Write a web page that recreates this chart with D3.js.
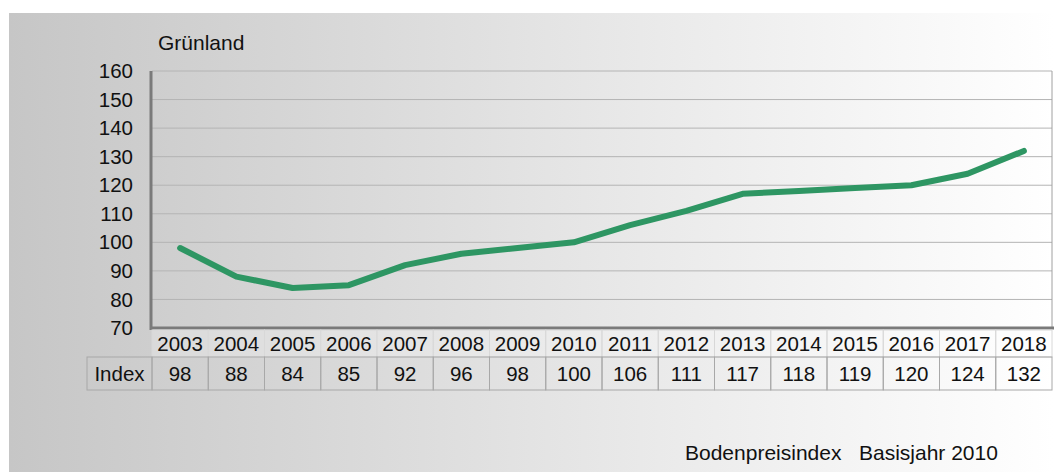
<!DOCTYPE html>
<html><head><meta charset="utf-8">
<script src="https://cdn.jsdelivr.net/npm/d3@7"></script>
<style>body{margin:0;background:#fff}svg{display:block;font-family:"Liberation Sans",Arial,sans-serif}</style>
</head><body>
<svg id="c" width="1054" height="472"></svg>
<script>
const years = ["2003","2004","2005","2006","2007","2008","2009","2010","2011","2012","2013","2014","2015","2016","2017","2018"];
const indexValues = [98,88,84,85,92,96,98,100,106,111,117,118,119,120,124,132];
const yTicks = [70,80,90,100,110,120,130,140,150,160];
const title = "Grünland";
const rowLabel = "Index";
const footer = "Bodenpreisindex   Basisjahr 2010";

const FS = 20.5;
const svg = d3.select("#c");
const defs = svg.append("defs");
const g = defs.append("linearGradient").attr("id","bg").attr("x1","0").attr("x2","1").attr("y1","0").attr("y2","0");
g.append("stop").attr("offset","0").attr("stop-color","#c6c6c6");
g.append("stop").attr("offset","0.55").attr("stop-color","#e6e6e6");
g.append("stop").attr("offset","1").attr("stop-color","#ffffff");
svg.append("rect").attr("x",9).attr("y",13).attr("width",1045).attr("height",459).attr("fill","url(#bg)");

const L=152, R=1052, T=71, B=328;
const x = d3.scaleBand().domain(years).range([L,R]);
const y = d3.scaleLinear().domain([70,160]).range([B,T]);

// gridlines
svg.append("g").selectAll("line").data(yTicks.slice(1)).join("line")
  .attr("x1",L).attr("x2",R).attr("y1",d=>y(d)).attr("y2",d=>y(d))
  .attr("stroke","#b4b4b4").attr("stroke-width",1);
svg.append("line").attr("x1",R).attr("x2",R).attr("y1",T).attr("y2",B).attr("stroke","#a0a0a0");

// axes
const yAxis = svg.append("g").attr("transform",`translate(${L},0)`)
  .call(d3.axisLeft(y).tickValues(yTicks).tickSize(0).tickPadding(19));
yAxis.select(".domain").remove();
yAxis.selectAll("text").attr("font-size",FS).attr("fill","#111").attr("font-family","Liberation Sans, Arial, sans-serif");

svg.append("line").attr("x1",L-1).attr("x2",L-1).attr("y1",T).attr("y2",B+2).attr("stroke","#7a7a7a").attr("stroke-width",3);
svg.append("line").attr("x1",L-2).attr("x2",1054).attr("y1",B).attr("y2",B).attr("stroke","#7a7a7a").attr("stroke-width",3);

// line
const line = d3.line().x((d,i)=>x(years[i])+x.bandwidth()/2).y(d=>y(d));
svg.append("path").datum(indexValues).attr("d",line).attr("fill","none")
  .attr("stroke","#2e9663").attr("stroke-width",6).attr("stroke-linejoin","round").attr("stroke-linecap","round");

// title
svg.append("text").attr("x",158).attr("y",50).attr("font-size",21).attr("fill","#111").text(title);

// table
const yr0=330, yr1=357, ir1=390;
const tbl = svg.append("g");
tbl.selectAll("rect.yr").data(years).join("rect").attr("class","yr")
  .attr("x",d=>x(d)).attr("y",yr0).attr("width",x.bandwidth()).attr("height",yr1-yr0)
  .attr("fill","rgba(255,255,255,0.25)").attr("stroke","#d8d8d8").attr("stroke-width",1);
tbl.selectAll("text.yr").data(years).join("text").attr("class","yr")
  .attr("x",d=>x(d)+x.bandwidth()/2).attr("y",yr1-6).attr("text-anchor","middle")
  .attr("font-size",FS).attr("fill","#111").text(d=>d);
tbl.selectAll("rect.iv").data(years).join("rect").attr("class","iv")
  .attr("x",d=>x(d)).attr("y",yr1).attr("width",x.bandwidth()).attr("height",ir1-yr1)
  .attr("fill","none").attr("stroke","#a8a8a8").attr("stroke-width",1);
tbl.append("rect").attr("x",87).attr("y",yr1).attr("width",L-87).attr("height",ir1-yr1)
  .attr("fill","none").attr("stroke","#a8a8a8");
tbl.append("text").attr("x",(87+L)/2).attr("y",ir1-9).attr("text-anchor","middle").attr("font-size",FS).attr("fill","#111").text(rowLabel);
tbl.selectAll("text.iv").data(indexValues).join("text").attr("class","iv")
  .attr("x",(d,i)=>x(years[i])+x.bandwidth()/2).attr("y",ir1-9).attr("text-anchor","middle")
  .attr("font-size",FS).attr("fill","#111").text(d=>d);

svg.append("text").attr("x",685).attr("y",460).attr("font-size",21).attr("fill","#111").style("white-space","pre").text(footer);
</script>
</body></html>
